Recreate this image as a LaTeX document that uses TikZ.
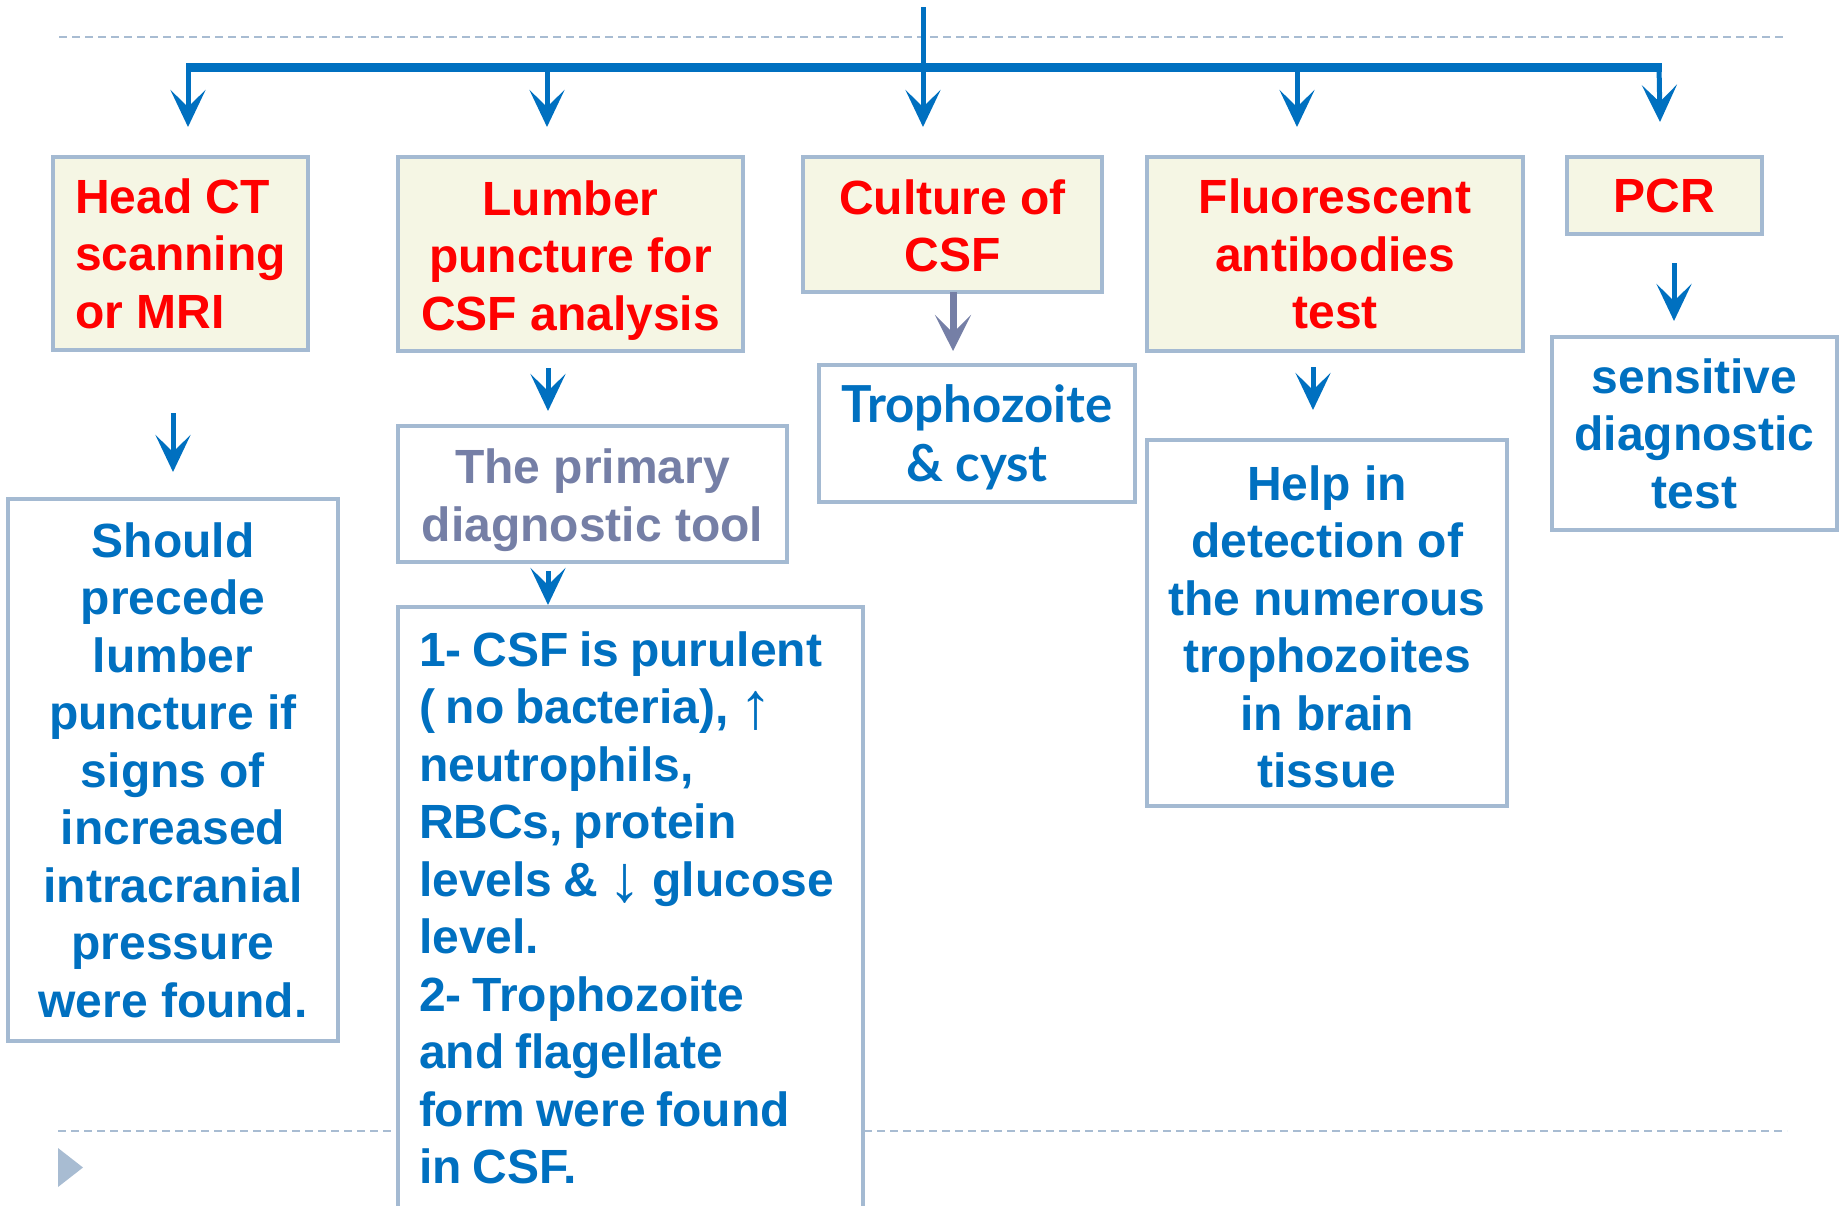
\documentclass[tikz,border=0pt]{standalone}
\usepackage{fontspec}
\setmainfont{Liberation Sans}
\newfontfamily\gill{Lato}
\newfontfamily\arrfont{Liberation Sans}
\usetikzlibrary{arrows.meta}
\definecolor{myblue}{RGB}{0,112,192}
\definecolor{myred}{RGB}{255,0,0}
\definecolor{bordc}{RGB}{164,186,210}
\definecolor{beige}{RGB}{245,246,228}
\definecolor{slate}{RGB}{117,127,166}
\definecolor{dashc}{RGB}{168,188,210}
\newcommand{\bigarr}[1]{\raisebox{-2.5pt}{\arrfont\mdseries\fontsize{33}{33}\selectfont #1}}
\newcommand{\narrowsp}{\spaceskip=5.4pt\relax}
\begin{document}
\begin{tikzpicture}[x=0.5pt,y=-0.5pt,
  box/.style={draw=bordc, line width=1.8pt, fill=white, inner sep=0pt, align=center,
    font=\fontsize{24}{28.75}\selectfont\bfseries},
  hdr/.style={box, fill=beige, text=myred},
  res/.style={box, text=myblue},
  tipv/.tip={Stealth[length=18.5pt,width=17.5pt,inset=8.5pt]},
  arr/.style={draw=myblue, line width=2.5pt, -tipv},
  garr/.style={draw=slate, line width=3.5pt, -{Stealth[length=18pt,width=18pt,inset=9pt]}},
  bar/.style={draw=myblue, line width=4.5pt},
  dashl/.style={draw=dashc, line width=0.9pt, dash pattern=on 4pt off 2.5pt}
]
\useasboundingbox (0,0) rectangle (1841,1205);

% dashed guide lines and bullet
\coordinate (d1a) at (59,37);  \coordinate (d1b) at (1787,37);
\coordinate (d2a) at (58,1131); \coordinate (d2b) at (1787,1131);
\draw[dashl] (d1a) -- (d1b);
\draw[dashl] (d2a) -- (d2b);
\fill[dashc] (58,1148) -- (83,1167.5) -- (58,1187) -- cycle;

% header boxes
\node[hdr, minimum width=127.5pt, minimum height=96.5pt, align=left] (headct) at (180.5,253.5)
  {Head CT\\scanning\\or MRI};
\node[hdr, minimum width=172.5pt, minimum height=97pt] (lumber) at (570.5,254)
  {\rule{0pt}{23.5pt}Lumber\\puncture for\\CSF analysis};
\node[hdr, minimum width=149.5pt, minimum height=67.5pt] (culture) at (952.5,224.5)
  {\rule{0pt}{18.5pt}Culture of\\CSF};
\node[hdr, minimum width=188pt, minimum height=97pt] (fluor) at (1335,254)
  {Fluorescent\\antibodies\\test};
\node[hdr, minimum width=97.5pt, minimum height=38.5pt] (pcr) at (1664.5,195.5)
  {PCR};

% result boxes
\node[res, minimum width=165pt, minimum height=271pt] (should) at (173,770)
  {Should\\precede\\lumber\\puncture if\\signs of\\increased\\intracranial\\pressure\\were found.};
\node[box, text=slate, minimum width=194.5pt, minimum height=68pt] (primary) at (592.5,494)
  {\rule{0pt}{23.5pt}The primary\\diagnostic tool};
\node[res, minimum width=232.5pt, minimum height=301pt, align=left, text width=211.5pt] (csf) at (630.5,908)
  {\narrowsp 1- CSF is purulent\\( no bacteria), \bigarr{↑}\\neutrophils,\\RBCs, protein\\levels \& \bigarr{↓} glucose\\level.\\2- Trophozoite\\and flagellate\\form were found\\in CSF.};
\node[res, minimum width=158pt, minimum height=68.5pt, font=\gill\fontsize{25.5}{29.3}\selectfont\bfseries] (tropho) at (977,433.5)
  {\rule{0pt}{23pt}Trophozoite\\\& cyst};
\node[res, minimum width=180pt, minimum height=183pt] (help) at (1327,623)
  {\rule{0pt}{21pt}Help in\\detection of\\the numerous\\trophozoites\\in brain\\tissue};
\node[res, minimum width=142.5pt, minimum height=96.5pt] (sens) at (1694.5,433.5)
  {sensitive\\diagnostic\\test};

% top connector tree
\coordinate (top) at (923,7);
\coordinate (bl) at (186,67); \coordinate (br) at (1662,67);
\coordinate (b1) at (188,65); \coordinate (t1) at (188,127);
\coordinate (b2) at (547,67); \coordinate (t2) at (547,127);
\coordinate (t3) at (923,127);
\coordinate (b4) at (1297,67); \coordinate (t4) at (1297,127);
\coordinate (b5) at (1659,65); \coordinate (t5) at (1660,122);
\draw[bar] (bl) -- (br);
\draw[arr] (top) -- (t3);
\draw[arr] (b1) -- (t1);
\draw[arr] (b2) -- (t2);
\draw[arr] (b4) -- (t4);
\draw[arr] (b5) -- (t5);

% lower arrows
\coordinate (hs1) at (173,413);  \coordinate (hs2) at (173,472);
\coordinate (lp1) at (548,368);  \coordinate (lp2) at (548,411);
\coordinate (pc1) at (548,571);  \coordinate (pc2) at (548,605);
\coordinate (ct1) at (953,292);  \coordinate (ct2) at (953,351);
\coordinate (fh1) at (1313,367); \coordinate (fh2) at (1313,410);
\coordinate (ps1) at (1674,263); \coordinate (ps2) at (1674,321);
\draw[arr] (hs1) -- (hs2);
\draw[arr] (lp1) -- (lp2);
\draw[arr] (pc1) -- (pc2);
\draw[garr] (ct1) -- (ct2);
\draw[arr] (fh1) -- (fh2);
\draw[arr] (ps1) -- (ps2);
\end{tikzpicture}
\end{document}
